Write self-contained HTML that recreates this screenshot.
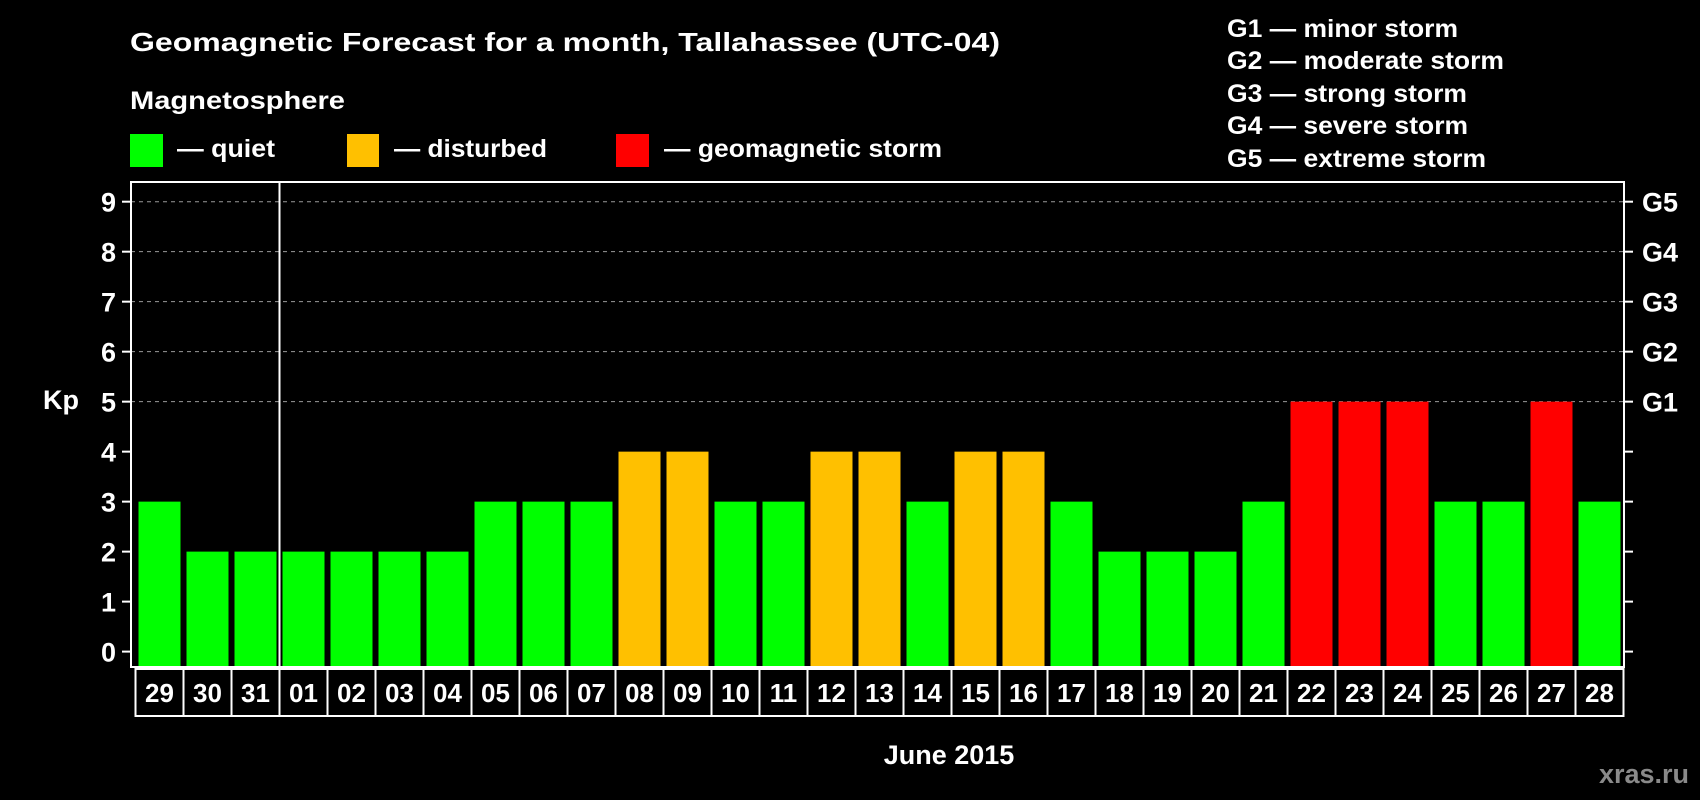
<!DOCTYPE html>
<html><head><meta charset="utf-8">
<style>
html,body{margin:0;padding:0;background:#000;}
svg{display:block;font-family:"Liberation Sans",Arial,sans-serif;font-weight:bold;}
</style></head>
<body>
<svg id="chart" width="1700" height="800" viewBox="0 0 1700 800" xmlns="http://www.w3.org/2000/svg">
<rect width="1700" height="800" fill="#000"/>
<text x="130" y="51" fill="#fff" font-size="26" textLength="870" lengthAdjust="spacingAndGlyphs">Geomagnetic Forecast for a month, Tallahassee (UTC-04)</text>
<text x="130" y="109" fill="#fff" font-size="25" textLength="215" lengthAdjust="spacingAndGlyphs">Magnetosphere</text>
<g>
<rect x="130" y="134" width="33" height="33" fill="#00ff00"/>
<text x="177" y="157" fill="#fff" font-size="25" textLength="98" lengthAdjust="spacingAndGlyphs">— quiet</text>
</g>
<g>
<rect x="347" y="134" width="32" height="33" fill="#ffc000"/>
<text x="394" y="157" fill="#fff" font-size="25" textLength="153" lengthAdjust="spacingAndGlyphs">— disturbed</text>
</g>
<g>
<rect x="616" y="134" width="33" height="33" fill="#ff0000"/>
<text x="664" y="157" fill="#fff" font-size="25" textLength="278" lengthAdjust="spacingAndGlyphs">— geomagnetic storm</text>
</g>
<g fill="#fff" font-size="25">
<text x="1227" y="37" textLength="231" lengthAdjust="spacingAndGlyphs">G1 — minor storm</text>
<text x="1227" y="69" textLength="277" lengthAdjust="spacingAndGlyphs">G2 — moderate storm</text>
<text x="1227" y="102" textLength="240" lengthAdjust="spacingAndGlyphs">G3 — strong storm</text>
<text x="1227" y="134" textLength="241" lengthAdjust="spacingAndGlyphs">G4 — severe storm</text>
<text x="1227" y="167" textLength="259" lengthAdjust="spacingAndGlyphs">G5 — extreme storm</text>
</g>
<g id="grid"></g>
<g id="bars"></g>
<g id="axes"></g>
<text x="43" y="409" fill="#fff" font-size="27">Kp</text>
<text x="949" y="764" fill="#fff" font-size="27" text-anchor="middle">June 2015</text>
<text x="1689" y="783" fill="#8a8a8a" font-size="27" text-anchor="end">xras.ru</text>
</svg>
<script>
const days = ["29","30","31","01","02","03","04","05","06","07","08","09","10","11","12","13","14","15","16","17","18","19","20","21","22","23","24","25","26","27","28"];
const kpValues = [3,2,2,2,2,2,2,3,3,3,4,4,3,3,4,4,3,4,4,3,2,2,2,3,5,5,5,3,3,5,3];
const yTicks = [0,1,2,3,4,5,6,7,8,9];
const gLabels = ["G1","G2","G3","G4","G5"];

const NS="http://www.w3.org/2000/svg";
const plotL=131, plotR=1624, plotT=182, plotB=667;
const bandX0=135.5, band=48, barW=42;
function y(v){return 651.6 - v*49.99;}
function xBand(i){return bandX0 + i*band;}
function colorFor(v){return v>=5?"#ff0000":(v>=4?"#ffc000":"#00ff00");}
function mk(tag,attrs,parent){const e=document.createElementNS(NS,tag);for(const k in attrs)e.setAttribute(k,attrs[k]);parent.appendChild(e);return e;}

const grid=document.getElementById("grid"), bars=document.getElementById("bars"), axes=document.getElementById("axes");

yTicks.forEach(t=>{
  if(t>=5){
    const l=mk("line",{x1:plotL,x2:plotR,y1:y(t),y2:y(t),stroke:"#999","stroke-width":1,"stroke-dasharray":"4,4"},grid);
    
    
  }
  const tk=mk("line",{x1:plotL-9,x2:plotL,y1:y(t),y2:y(t),stroke:"#fff","stroke-width":2},axes);
  
  
  const tr=mk("line",{x1:plotR,x2:plotR+9,y1:y(t),y2:y(t),stroke:"#fff","stroke-width":2},axes);
  
  
  const lb=mk("text",{x:116,y:y(t)+10,fill:"#fff","font-size":27,"text-anchor":"end"},axes);
  lb.textContent=t;
  
  
});
gLabels.forEach((g,i)=>{
  const lb=mk("text",{x:1642,y:y(5+i)+10,fill:"#fff","font-size":27},axes);
  lb.textContent=g;
  
  
});

kpValues.forEach((v,i)=>{
  const r=mk("rect",{x:xBand(i)+3,y:y(v),width:barW,height:plotB-1-y(v),fill:colorFor(v)},bars);
  
  
});

const frame=mk("rect",{x:plotL,y:plotT,width:plotR-plotL,height:plotB-plotT,fill:"none",stroke:"#fff","stroke-width":2},axes);


const sepIdx=days.indexOf("01");
const sep=mk("line",{x1:xBand(sepIdx),x2:xBand(sepIdx),y1:plotT,y2:plotB,stroke:"#fff","stroke-width":2},axes);



days.forEach((d,i)=>{
  const b=mk("rect",{x:xBand(i),y:669,width:band,height:47,fill:"#000",stroke:"#fff","stroke-width":2},axes);
  
  
  const t=mk("text",{x:xBand(i)+band/2,y:702,fill:"#fff","font-size":26,"text-anchor":"middle"},axes);
  t.textContent=d;
  
  
});
</script>
</body></html>
